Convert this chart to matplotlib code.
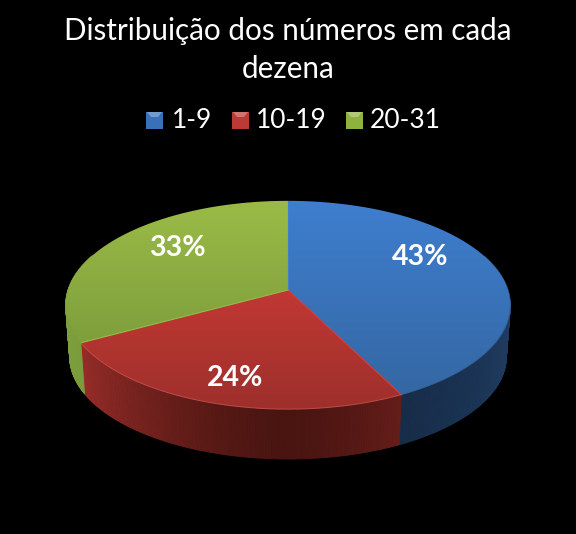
import numpy as np
import matplotlib
matplotlib.use("Agg")
import matplotlib.pyplot as plt
from matplotlib.patches import Polygon, Rectangle
from matplotlib.collections import PolyCollection

plt.rcParams["font.family"] = ["Lato", "DejaVu Sans"]

title = "Distribuição dos números em cada\ndezena"
categories = ["1-9", "10-19", "20-31"]
shares = [42.6, 24.4, 33]
labels = ["43%", "24%", "33%"]

# cores do topo (em cima, em baixo), lateral (claro, escuro) e legenda
top_colors = [("#3f7fd0", "#33659f"), ("#dd3f3a", "#9c2f2b"), ("#9cbc48", "#6f9036")]
wall_colors = [("#1f3c60", "#14263f"), ("#a8322e", "#4a1511"), ("#7d9e3c", "#6f8f36")]
rim_colors = ["#33659f", "#c8504a", "#7f9f3c"]
legend_colors = ["#3a70b8", "#bb3a36", "#8fb23f"]

# geometria em pixels da imagem
cx, cy = 288, 290
rx, ry, persp = 220, 102, 0.144
depth, shrink = 52, 0.982


def project(theta):
    # theta em radianos a partir do topo, sentido horario
    X, Y = np.sin(theta), np.cos(theta)
    w = 1 + persp * Y
    return cx + rx * X / w, cy - ry * Y / w


def project_low(theta):
    x, y = project(theta)
    return cx + shrink * (x - cx), cy + shrink * (y - cy) + depth


fig = plt.figure(figsize=(5.76, 5.34), dpi=100, facecolor="black")
ax = fig.add_axes([0, 0, 1, 1])
ax.set_xlim(0, 576)
ax.set_ylim(534, 0)
ax.axis("off")

edges = np.cumsum([0] + shares) / sum(shares) * 2 * np.pi

# lateral da pizza, em tiras
strips, colours = [], []
for i in range(len(shares)):
    t = np.linspace(edges[i], edges[i + 1], int(shares[i] * 6) + 2)
    c0 = np.array(matplotlib.colors.to_rgb(wall_colors[i][0]))
    c1 = np.array(matplotlib.colors.to_rgb(wall_colors[i][1]))
    for a, b in zip(t[:-1], t[1:]):
        if np.cos((a + b) / 2) > 0.35:
            continue
        xa, ya = project(a)
        xb, yb = project(b)
        xc, yc = project_low(b)
        xd, yd = project_low(a)
        strips.append([(xa, ya), (xb, yb), (xc, yc), (xd, yd)])
        # mais escuro perto do centro da frente
        f = np.clip(1 - abs(np.sin((a + b) / 2)) ** 1.5, 0, 1)
        colours.append(c0 + (c1 - c0) * f)
ax.add_collection(PolyCollection(strips, facecolors=colours, edgecolors=colours, linewidths=0.6, zorder=2))

# topo com gradiente vertical
for i in range(len(shares)):
    t = np.linspace(edges[i], edges[i + 1], 200)
    x, y = project(t)
    xs = np.r_[cx, x]
    ys = np.r_[cy, y]
    poly = Polygon(np.c_[xs, ys], closed=True, transform=ax.transData, facecolor="none", edgecolor="none")
    ax.add_patch(poly)
    c0 = np.array(matplotlib.colors.to_rgb(top_colors[i][0]))
    c1 = np.array(matplotlib.colors.to_rgb(top_colors[i][1]))
    g = np.linspace(0, 1, 256)[:, None, None]
    img = c0[None, None, :] + (c1 - c0)[None, None, :] * g
    im = ax.imshow(img, extent=(40, 540, 415, 195), aspect="auto", zorder=3, interpolation="bilinear")
    im.set_clip_path(poly)
    ax.plot(xs[[0, 1]], ys[[0, 1]], color=top_colors[i][0], lw=0.8, zorder=4)
    # brilho na borda da frente
    front = np.cos(t) < -0.1
    ax.plot(x[front], y[front], color=rim_colors[i], lw=0.7, alpha=0.9, zorder=4)

ax.set_xlim(0, 576)
ax.set_ylim(534, 0)

label_pos = [(420, 257), (235, 378), (177, 248)]
for (lx, ly), s in zip(label_pos, labels):
    ax.text(lx, ly, s, color="white", fontsize=20.5, fontweight="bold", ha="center", va="center", zorder=5)

ax.text(288, 50, title, color="white", fontsize=21.3, ha="center", va="center", linespacing=1.43, zorder=5)

# legenda
swatch_x = [146, 232, 346]
text_x = [172, 256, 370]
for sx, tx, c, name in zip(swatch_x, text_x, legend_colors, categories):
    ax.add_patch(Rectangle((sx, 112), 17, 17, facecolor=c, edgecolor="none", zorder=5))
    light = np.array(matplotlib.colors.to_rgb(c)) * 0.7 + 0.3
    ax.add_patch(Polygon([(sx + 1, 112), (sx + 16, 112), (sx + 12, 117), (sx + 5, 117)], facecolor=light, edgecolor="none", zorder=6))
    ax.text(tx, 120, name, color="white", fontsize=19, ha="left", va="center", zorder=5)

fig.savefig("out.png", dpi=100, facecolor="black")
